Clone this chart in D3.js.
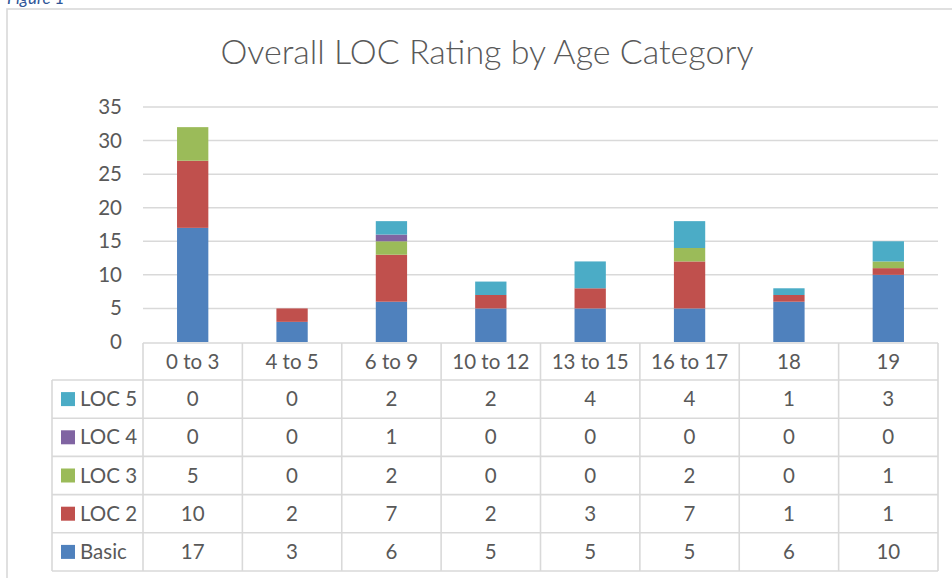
<!DOCTYPE html>
<html><head><meta charset="utf-8">
<script src="https://cdn.jsdelivr.net/npm/d3@7"></script>
<style>
html,body{margin:0;padding:0;background:#fff;}
svg{display:block;font-family:Lato,"Open Sans",sans-serif;}
</style></head>
<body>
<script>
const categories = ["0 to 3","4 to 5","6 to 9","10 to 12","13 to 15","16 to 17","18","19"];
const basic = [17,3,6,5,5,5,6,10];
const loc2 = [10,2,7,2,3,7,1,1];
const loc3 = [5,0,2,0,0,2,0,1];
const loc4 = [0,0,1,0,0,0,0,0];
const loc5 = [0,0,2,2,4,4,1,3];
const seriesNames = ["Basic","LOC 2","LOC 3","LOC 4","LOC 5"];
const seriesValues = [basic, loc2, loc3, loc4, loc5];
const seriesColors = ["#4F81BD","#C0504D","#9BBB59","#8064A2","#4BACC6"];
const yTicks = [0,5,10,15,20,25,30,35];
const title = "Overall LOC Rating by Age Category";

const W = 952, H = 578;
const svg = d3.select("body").append("svg").attr("width", W).attr("height", H);
const grid = "#d9d9d9", txt = "#595959";
const fs = 20.5;

// caption (cut off at top, as in the source)
svg.append("text").attr("x", 7).attr("y", 4).attr("fill", "#2E5597")
  .attr("font-style","italic").attr("font-size", 17).text("Figure 1");

// frame
svg.append("rect").attr("x", 7).attr("y", 9).attr("width", 960).attr("height", 600)
  .attr("fill","none").attr("stroke","#d9d9d9").attr("stroke-width",1.6);

// title
svg.append("text").attr("x", 487).attr("y", 64).attr("text-anchor","middle")
  .attr("fill", txt).attr("font-size", 34).attr("font-weight", 300).text(title);

const x = d3.scaleBand().domain(categories).range([143, 938]).padding(0);
const y = d3.scaleLinear().domain([0, 35]).range([342, 107]);

// gridlines
svg.append("g").selectAll("line").data(yTicks.filter(d => d > 0)).join("line")
  .attr("x1", 143).attr("x2", 938).attr("y1", d => y(d)).attr("y2", d => y(d))
  .attr("stroke", grid).attr("stroke-width", 1.5);

// y axis labels
const yAxis = d3.axisLeft(y).tickValues(yTicks).tickSize(0).tickPadding(0);
const ya = svg.append("g").attr("transform","translate(122,0)").call(yAxis);
ya.select(".domain").remove();
ya.selectAll("text").attr("fill", txt).attr("font-size", fs).attr("font-family","Lato,'Open Sans',sans-serif");

// stacked bars
const rows = categories.map((c, i) => {
  const o = {cat: c};
  seriesNames.forEach((s, j) => o[s] = seriesValues[j][i]);
  return o;
});
const stack = d3.stack().keys(seriesNames)(rows);
const bw = x.bandwidth() * 0.315;
svg.append("g").selectAll("g").data(stack).join("g")
  .attr("fill", (d, i) => seriesColors[i])
  .selectAll("rect").data(d => d.filter(p => p[1] > p[0])).join("rect")
  .attr("x", d => x(d.data.cat) + x.bandwidth()/2 - bw/2)
  .attr("width", bw)
  .attr("y", d => y(d[1]))
  .attr("height", d => y(d[0]) - y(d[1]));

// data table
const tableTop = 343, headerH = 37, rowH = 38.2, leftX = 52;
const tableRows = ["LOC 5","LOC 4","LOC 3","LOC 2","Basic"];
const nRows = tableRows.length;
const tableBottom = tableTop + headerH + nRows * rowH;
const tg = svg.append("g").attr("stroke", grid).attr("stroke-width", 1.6);
tg.append("line").attr("x1", 143).attr("x2", 938).attr("y1", tableTop).attr("y2", tableTop);
for (let r = 0; r <= nRows; r++) {
  const yy = tableTop + headerH + r * rowH;
  tg.append("line").attr("x1", leftX).attr("x2", 938).attr("y1", yy).attr("y2", yy);
}
tg.append("line").attr("x1", leftX).attr("x2", leftX).attr("y1", tableTop + headerH).attr("y2", tableBottom);
categories.forEach(c => {
  tg.append("line").attr("x1", x(c)).attr("x2", x(c)).attr("y1", tableTop).attr("y2", tableBottom);
});
tg.append("line").attr("x1", 938).attr("x2", 938).attr("y1", tableTop).attr("y2", tableBottom);

// header labels
svg.append("g").selectAll("text").data(categories).join("text")
  .attr("x", d => x(d) + x.bandwidth()/2).attr("y", tableTop + headerH/2)
  .attr("dy","0.35em").attr("text-anchor","middle").attr("fill", txt).attr("font-size", fs)
  .text(d => d);

// rows
tableRows.forEach((name, r) => {
  const si = seriesNames.indexOf(name);
  const cy = tableTop + headerH + r * rowH + rowH/2;
  svg.append("rect").attr("x", 61).attr("y", cy - 7).attr("width", 14).attr("height", 14)
    .attr("fill", seriesColors[si]);
  svg.append("text").attr("x", 80).attr("y", cy).attr("dy","0.35em")
    .attr("fill", txt).attr("font-size", fs).text(name);
  svg.append("g").selectAll("text").data(seriesValues[si]).join("text")
    .attr("x", (d, i) => x(categories[i]) + x.bandwidth()/2).attr("y", cy).attr("dy","0.35em")
    .attr("text-anchor","middle").attr("fill", txt).attr("font-size", fs)
    .text(d => d);
});
</script>
</body></html>
